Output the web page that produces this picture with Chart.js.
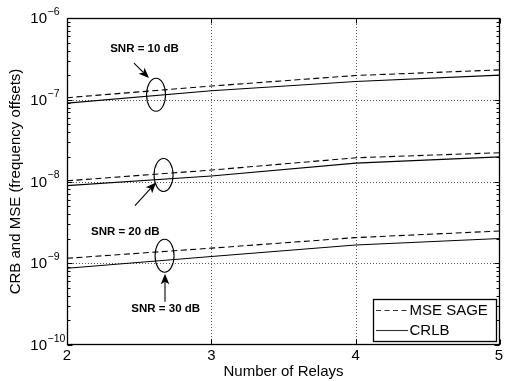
<!DOCTYPE html>
<html>
<head>
<meta charset="utf-8">
<script src="https://cdn.jsdelivr.net/npm/chart.js@4/dist/chart.umd.min.js"></script>
<style>
html,body{margin:0;padding:0;background:#fff;}
canvas{display:block;}
</style>
</head>
<body>
<canvas id="c" width="505" height="381"></canvas>
<script>
// ---- data ----
const relays = [2, 3, 4, 5];
const mseSnr10  = [1.06e-7, 1.47e-7, 1.98e-7, 2.32e-7];
const crlbSnr10 = [9.1e-8, 1.29e-7, 1.67e-7, 2.0e-7];
const mseSnr20  = [1.02e-8, 1.38e-8, 1.95e-8, 2.25e-8];
const crlbSnr20 = [8.9e-9, 1.17e-8, 1.68e-8, 2.0e-8];
const mseSnr30  = [1.15e-9, 1.53e-9, 2.06e-9, 2.48e-9];
const crlbSnr30 = [8.7e-10, 1.21e-9, 1.67e-9, 2.01e-9];
const xTickValues = [2, 3, 4, 5];
const xTickLabels = ['2', '3', '4', '5'];
const yTickValues = [1e-10, 1e-9, 1e-8, 1e-7, 1e-6];
const yTickExponents = ['\u221210', '\u22129', '\u22128', '\u22127', '\u22126'];
const legendLabels = ['MSE SAGE', 'CRLB'];
const xTitle = 'Number of Relays';
const yTitle = 'CRB and MSE (frequency offsets)';
const snrLabels = ['SNR = 10 dB', 'SNR = 20 dB', 'SNR = 30 dB'];
// annotation anchors in data coordinates
const ellipseX = [2.617, 2.669, 2.676];
const ellipseY = [1.151e-7, 1.202e-8, 1.236e-9];
const labelX = [2.537, 2.404, 2.684];
const labelY = [4.17e-7, 2.40e-9, 2.78e-10];
const arrowFromX = [2.464, 2.471, 2.679];
const arrowFromY = [2.81e-7, 5.08e-9, 3.37e-10];
const arrowToX = [2.568, 2.617, 2.679];
const arrowToY = [1.84e-7, 9.72e-9, 7.43e-10];

const FONT = '"Liberation Sans", Arial, Helvetica, sans-serif';
const pts = arr => relays.map((x, i) => ({x: x, y: arr[i]}));
const DASH = [6, 3.5];

function ds(label, arr, dashed) {
  return {
    label: label, data: pts(arr),
    borderColor: '#000', backgroundColor: '#000',
    borderWidth: 1.1, borderDash: dashed ? DASH : [],
    pointRadius: 0, tension: 0, fill: false
  };
}

function drawArrow(ctx, x1, y1, x2, y2) {
  const ang = Math.atan2(y2 - y1, x2 - x1);
  const L = 10.5, W = 4.3, back = 8;
  ctx.beginPath();
  ctx.moveTo(x1, y1);
  ctx.lineTo(x2 - Math.cos(ang) * back, y2 - Math.sin(ang) * back);
  ctx.stroke();
  const bx = x2 - Math.cos(ang) * L, by = y2 - Math.sin(ang) * L;
  const nx = -Math.sin(ang), ny = Math.cos(ang);
  const mx = x2 - Math.cos(ang) * back, my = y2 - Math.sin(ang) * back;
  ctx.beginPath();
  ctx.moveTo(x2, y2);
  ctx.lineTo(bx + nx * W, by + ny * W);
  ctx.lineTo(mx, my);
  ctx.lineTo(bx - nx * W, by - ny * W);
  ctx.closePath();
  ctx.fill();
}

const decor = {
  id: 'decor',
  beforeDatasetsDraw(chart) {
    const ctx = chart.ctx, a = chart.chartArea;
    const xs = chart.scales.x, ys = chart.scales.y;
    ctx.save();
    ctx.strokeStyle = '#555';
    ctx.lineWidth = 1;
    ctx.setLineDash([1, 2]);
    xTickValues.forEach(v => {
      const px = Math.round(xs.getPixelForValue(v)) + 0.5;
      if (px <= a.left + 1 || px >= a.right - 1) return;
      ctx.beginPath(); ctx.moveTo(px, a.top); ctx.lineTo(px, a.bottom); ctx.stroke();
    });
    yTickValues.forEach(v => {
      const py = Math.round(ys.getPixelForValue(v)) + 0.5;
      if (py <= a.top + 1 || py >= a.bottom - 1) return;
      ctx.beginPath(); ctx.moveTo(a.left, py); ctx.lineTo(a.right, py); ctx.stroke();
    });
    ctx.restore();
  },
  afterDatasetsDraw(chart) {
    const ctx = chart.ctx, a = chart.chartArea;
    const xs = chart.scales.x, ys = chart.scales.y;
    ctx.save();
    ctx.setLineDash([]);
    ctx.strokeStyle = '#000';
    ctx.fillStyle = '#000';
    ctx.lineWidth = 1;
    // ticks (inward)
    const L = Math.round(a.left) + 0.5, R = Math.round(a.right) - 0.5;
    const T = Math.round(a.top) + 0.5, B = Math.round(a.bottom) - 0.5;
    ctx.beginPath();
    xTickValues.forEach(v => {
      const px = Math.round(xs.getPixelForValue(v)) + 0.5;
      ctx.moveTo(px, B); ctx.lineTo(px, B - 5);
      ctx.moveTo(px, T); ctx.lineTo(px, T + 5);
    });
    for (let e = -10; e < -6; e++) {
      for (let k = 1; k <= 9; k++) {
        const v = k * Math.pow(10, e);
        const py = Math.round(ys.getPixelForValue(v)) + 0.5;
        const len = k === 1 ? 5 : 3;
        ctx.moveTo(L, py); ctx.lineTo(L + len, py);
        ctx.moveTo(R, py); ctx.lineTo(R - len, py);
      }
    }
    ctx.stroke();
    // box
    ctx.lineWidth = 1.3;
    ctx.strokeRect(L, T, R - L, B - T);
    ctx.lineWidth = 1;

    // annotations
    ctx.lineWidth = 1.1;
    for (let i = 0; i < snrLabels.length; i++) {
      const cx = xs.getPixelForValue(ellipseX[i]), cy = ys.getPixelForValue(ellipseY[i]);
      ctx.beginPath();
      ctx.ellipse(cx, cy, 9.5, 16.5, 0, 0, Math.PI * 2);
      ctx.stroke();
      drawArrow(ctx, xs.getPixelForValue(arrowFromX[i]), ys.getPixelForValue(arrowFromY[i]),
                xs.getPixelForValue(arrowToX[i]), ys.getPixelForValue(arrowToY[i]));
      ctx.font = 'bold 11.5px ' + FONT;
      ctx.textAlign = 'center';
      ctx.textBaseline = 'middle';
      ctx.fillText(snrLabels[i], xs.getPixelForValue(labelX[i]), ys.getPixelForValue(labelY[i]));
    }

    // legend
    const lx = 373.5, ly = 299.5, lw = 123, lh = 42;
    ctx.fillStyle = '#fff';
    ctx.fillRect(lx, ly, lw, lh);
    ctx.strokeStyle = '#000';
    ctx.lineWidth = 1.3;
    ctx.strokeRect(lx, ly, lw, lh);
    ctx.lineWidth = 1.1;
    ctx.strokeStyle = '#333';
    ctx.setLineDash([5, 3.5]);
    ctx.beginPath(); ctx.moveTo(376, 310.5); ctx.lineTo(408, 310.5); ctx.stroke();
    ctx.setLineDash([]);
    ctx.beginPath(); ctx.moveTo(376, 330.5); ctx.lineTo(408, 330.5); ctx.stroke();
    ctx.fillStyle = '#000';
    ctx.font = '15px ' + FONT;
    ctx.textAlign = 'left';
    ctx.textBaseline = 'middle';
    ctx.fillText(legendLabels[0], 409.5, 310.5);
    ctx.fillText(legendLabels[1], 409.5, 330.5);
    ctx.restore();
  },
  afterDraw(chart) {
    const ctx = chart.ctx, a = chart.chartArea;
    const xs = chart.scales.x, ys = chart.scales.y;
    ctx.save();
    ctx.fillStyle = '#000';
    // x tick labels
    ctx.font = '15px ' + FONT;
    ctx.textAlign = 'center';
    ctx.textBaseline = 'middle';
    xTickValues.forEach((v, i) => {
      let px = xs.getPixelForValue(v);
      if (i === xTickValues.length - 1) px = Math.min(px, 499);
      ctx.fillText(xTickLabels[i], px, a.bottom + 10.5);
    });
    // y tick labels 10^e
    yTickValues.forEach((v, i) => {
      const py = ys.getPixelForValue(v);
      ctx.font = '15px ' + FONT;
      ctx.textAlign = 'right';
      ctx.textBaseline = 'middle';
      ctx.fillText('10', 47, py + 1);
      ctx.font = '10.5px ' + FONT;
      ctx.textAlign = 'left';
      ctx.fillText(yTickExponents[i], 47.5, py - 6);
    });
    // axis titles
    ctx.font = '15px ' + FONT;
    ctx.textAlign = 'center';
    ctx.textBaseline = 'middle';
    ctx.fillText(xTitle, (a.left + a.right) / 2, 372);
    ctx.save();
    ctx.translate(16, (a.top + a.bottom) / 2);
    ctx.rotate(-Math.PI / 2);
    ctx.fillText(yTitle, 0, 0);
    ctx.restore();
    ctx.restore();
  }
};

new Chart(document.getElementById('c'), {
  type: 'line',
  data: {
    datasets: [
      ds('MSE SAGE (SNR = 10 dB)', mseSnr10, true),
      ds('CRLB (SNR = 10 dB)', crlbSnr10, false),
      ds('MSE SAGE (SNR = 20 dB)', mseSnr20, true),
      ds('CRLB (SNR = 20 dB)', crlbSnr20, false),
      ds('MSE SAGE (SNR = 30 dB)', mseSnr30, true),
      ds('CRLB (SNR = 30 dB)', crlbSnr30, false)
    ]
  },
  options: {
    responsive: false,
    devicePixelRatio: 1,
    animation: false,
    layout: { padding: { left: 67, right: 5, top: 18, bottom: 36 } },
    plugins: { legend: { display: false }, tooltip: { enabled: false } },
    scales: {
      x: { type: 'linear', min: 2, max: 5, display: false },
      y: { type: 'logarithmic', min: 1e-10, max: 1e-6, display: false }
    }
  },
  plugins: [decor]
});
</script>
</body>
</html>
